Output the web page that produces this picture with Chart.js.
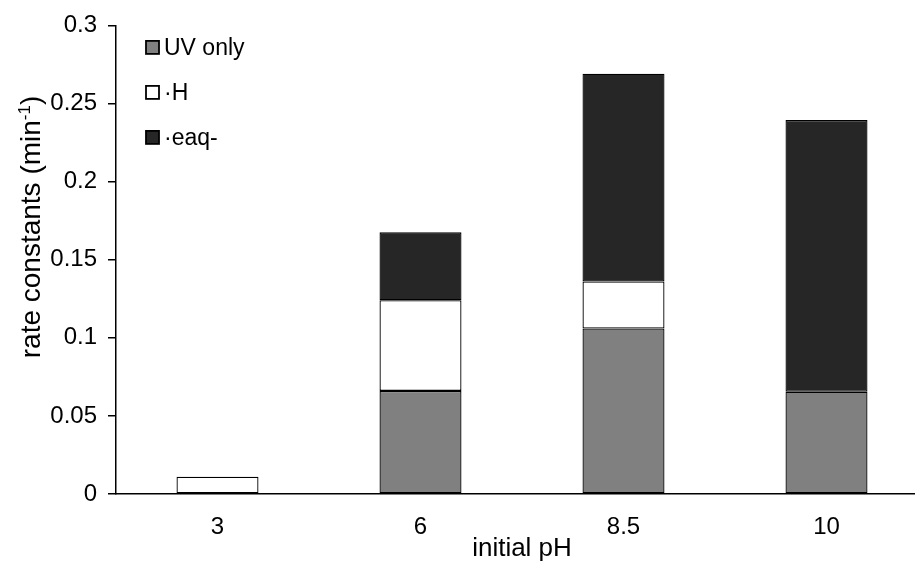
<!DOCTYPE html>
<html>
<head>
<meta charset="utf-8">
<script src="https://cdn.jsdelivr.net/npm/chart.js@4.4.0/dist/chart.umd.min.js"></script>
<style>
  html, body { margin: 0; padding: 0; background: #fff; overflow: hidden; }
  #wrap { width: 915px; height: 564px; overflow: hidden; }
</style>
</head>
<body>
<div id="wrap"><canvas id="chart" width="930" height="564"></canvas></div>
<script>
const categories = ['3', '6', '8.5', '10'];
const uvOnly = [null, 0.066, 0.106, 0.0655];
const hRadical = [0.011, 0.058, 0.030, null];
const eaq = [null, 0.0435, 0.133, 0.174];
const yTicks = [0, 0.05, 0.1, 0.15, 0.2, 0.25, 0.3];
const yTickLabels = ['0', '0.05', '0.1', '0.15', '0.2', '0.25', '0.3'];

const FONT = 'Liberation Sans, Arial, sans-serif';

// legend drawn inside the plot, top-left
const insideLegend = {
  id: 'insideLegend',
  afterDraw(chart) {
    const c = chart.ctx;
    const a = chart.chartArea;
    c.save();
    c.font = '23px ' + FONT;
    c.textBaseline = 'middle';
    c.textAlign = 'left';
    chart.data.datasets.forEach((ds, i) => {
      const y = a.top + 22 + i * 45;
      const x = a.left + 30;
      c.fillStyle = ds.backgroundColor;
      c.fillRect(x, y - 6.5, 13, 13);
      c.lineWidth = 1.8;
      c.strokeStyle = '#000';
      c.strokeRect(x, y - 6.5, 13, 13);
      c.fillStyle = '#000';
      c.fillText(ds.label, x + 18, y + 1);
    });
    c.restore();
  }
};

// y axis title with a real superscript (min^-1)
const yTitle = {
  id: 'yTitle',
  afterDraw(chart) {
    const c = chart.ctx;
    const main = 'rate constants (min';
    const sup = '-1';
    const tail = ')';
    c.save();
    c.fillStyle = '#000';
    c.textBaseline = 'alphabetic';
    c.textAlign = 'left';
    c.font = '28px ' + FONT;
    const w1 = c.measureText(main).width;
    const w3 = c.measureText(tail).width;
    c.font = '17px ' + FONT;
    const w2 = c.measureText(sup).width;
    const total = w1 + w2 + w3;
    c.translate(40, 227);
    c.rotate(-Math.PI / 2);
    let x = -total / 2;
    c.font = '28px ' + FONT;
    c.fillText(main, x, 0);
    x += w1;
    c.font = '17px ' + FONT;
    c.fillText(sup, x, -10);
    x += w2;
    c.font = '28px ' + FONT;
    c.fillText(tail, x, 0);
    c.restore();
  }
};

const data = {
  labels: categories,
  datasets: [
    { label: 'UV only', data: uvOnly, backgroundColor: '#808080' },
    { label: '\u00b7H', data: hRadical, backgroundColor: '#ffffff' },
    { label: '\u00b7eaq-', data: eaq, backgroundColor: '#262626' }
  ].map(d => Object.assign(d, {
    borderColor: '#000',
    borderWidth: 1.3,
    borderSkipped: false,
    categoryPercentage: 1,
    barPercentage: 0.404,
    stack: 's'
  }))
};

const config = {
  type: 'bar',
  data: data,
  plugins: [insideLegend, yTitle],
  options: {
    responsive: false,
    animation: false,
    devicePixelRatio: 1,
    layout: { padding: { top: 23, right: 2, left: 0, bottom: 0 } },
    plugins: {
      legend: { display: false },
      tooltip: { enabled: false }
    },
    scales: {
      x: {
        stacked: true,
        grid: { display: false },
        border: { display: true, color: '#000', width: 1.5 },
        ticks: { color: '#000', font: { family: FONT, size: 24 }, padding: 11 },
        title: {
          display: true, text: 'initial pH', color: '#000',
          font: { family: FONT, size: 26 }, padding: { top: 0, bottom: 0 }
        },
        afterFit: s => { s.height = 70; }
      },
      y: {
        stacked: true,
        min: 0,
        max: 0.3,
        grid: { drawOnChartArea: false, drawTicks: true, tickLength: 8, color: '#000', lineWidth: 1.5 },
        border: { display: true, color: '#000', width: 1.5 },
        afterBuildTicks: s => { s.ticks = yTicks.map(v => ({ value: v })); },
        ticks: {
          color: '#000',
          font: { family: FONT, size: 24 },
          padding: 11,
          callback: (v) => yTickLabels[yTicks.indexOf(v)]
        },
        title: { display: false },
        afterFit: s => { s.width = 116; }
      }
    }
  }
};

const myChart = new Chart(document.getElementById('chart'), config);
</script>
</body>
</html>
